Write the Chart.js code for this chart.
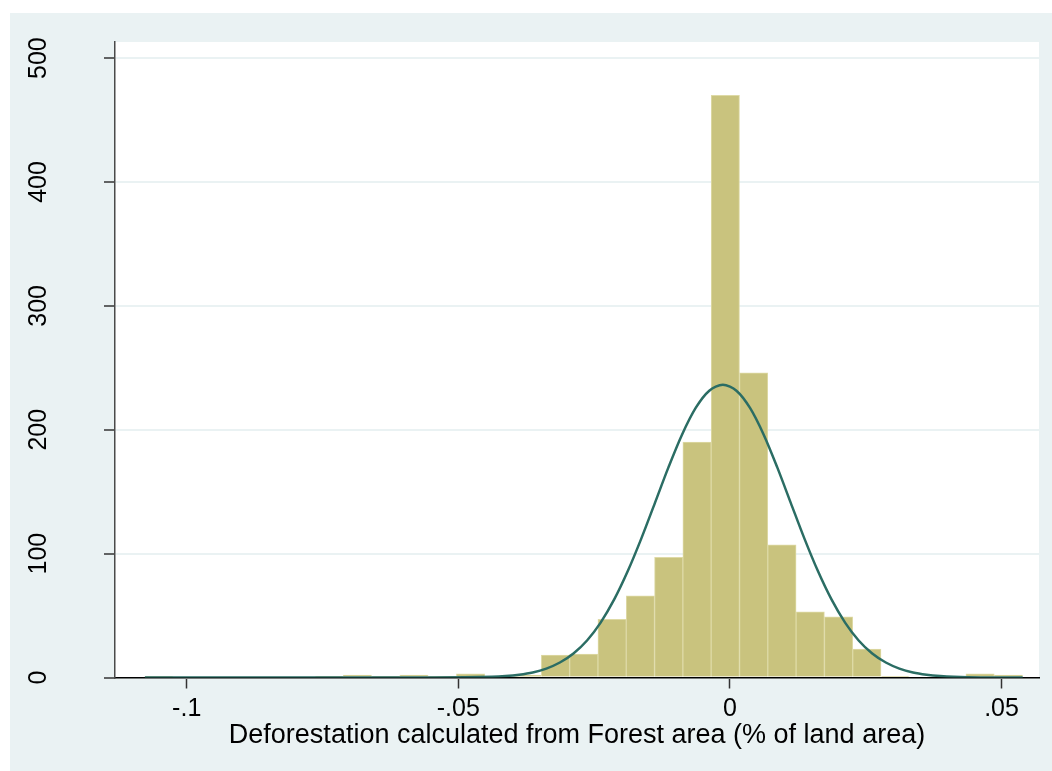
<!DOCTYPE html>
<html>
<head>
<meta charset="utf-8">
<script src="https://cdn.jsdelivr.net/npm/chart.js@4.4.0/dist/chart.umd.min.js"></script>
<style>
  html, body { margin: 0; padding: 0; background: #fff; }
  #wrap { width: 1052px; height: 771px; position: relative; }
</style>
</head>
<body>
<div id="wrap"><canvas id="histChart"></canvas></div>
<script>
// histogram bins
const binStart = -0.10767;
const binWidth = 0.005211;
const binCounts = [1, 0, 0, 0, 0, 0, 1, 2, 1, 2, 1, 3, 0, 2, 18, 19, 47, 66, 97, 190,
  470, 246, 107, 53, 49, 23, 1, 0, 0, 3, 2];

// normal curve overlay
const curveX = [-0.1077, -0.06, -0.0488, -0.0438, -0.0413, -0.0388, -0.0363, -0.0338, -0.0313, -0.0288,
  -0.0263, -0.0238, -0.0213, -0.0188, -0.0163, -0.0138, -0.0113, -0.0088, -0.0063, -0.0038,
  -0.0013, 0.0012, 0.0037, 0.0062, 0.0087, 0.0112, 0.0137, 0.0162, 0.0187, 0.0212,
  0.0237, 0.0262, 0.0287, 0.0312, 0.0337, 0.0362, 0.0387, 0.0412, 0.0462, 0.0539];
const curveY = [0, 0, 0.2, 0.6, 1.2, 2.3, 4.1, 7.2, 12.1, 19.4,
  29.9, 44.3, 63.0, 85.9, 112.3, 141.0, 169.8, 196.2, 217.6, 231.5,
  236.3, 231.5, 217.6, 196.2, 169.8, 141.0, 112.3, 85.9, 63.0, 44.3,
  29.9, 19.4, 12.1, 7.2, 4.1, 2.3, 1.2, 0.6, 0.1, 0];

const xTickValues = [-0.1, -0.05, 0, 0.05];
const xTickLabels = ['-.1', '-.05', '0', '.05'];
const yTickValues = [0, 100, 200, 300, 400, 500];
const yTickLabels = ['0', '100', '200', '300', '400', '500'];
const xTitle = 'Deforestation calculated from Forest area (% of land area)';

const fontFamily = '"Liberation Sans", Arial, sans-serif';

// bin centres from the bin grid
const binPoints = binCounts.map((c, i) => ({ x: binStart + binWidth * (i + 0.5), y: c }));
const curvePoints = curveX.map((x, i) => ({ x: x, y: curveY[i] }));

// Stata-like background: light frame, white plot region
const backgroundPlugin = {
  id: 'stataBackground',
  beforeDraw(chart) {
    const { ctx, chartArea, width, height } = chart;
    ctx.save();
    ctx.fillStyle = '#ffffff';
    ctx.fillRect(0, 0, width, height);
    ctx.fillStyle = '#eaf2f3';
    ctx.fillRect(10, 13, width - 10, height - 13);
    ctx.fillStyle = '#ffffff';
    ctx.fillRect(chartArea.left, chartArea.top, chartArea.right - chartArea.left, chartArea.bottom - chartArea.top);
    ctx.restore();
  }
};

const ctx = document.getElementById('histChart').getContext('2d');
new Chart(ctx, {
  type: 'bar',
  data: {
    datasets: [
      {
        type: 'line',
        data: curvePoints,
        borderColor: '#2b6d64',
        borderWidth: 2.5,
        pointRadius: 0,
        fill: false,
        tension: 0.3,
        order: 0
      },
      {
        type: 'bar',
        data: binPoints,
        backgroundColor: '#c9c37e',
        borderColor: '#dedaa6',
        borderWidth: 1,
        barPercentage: 1,
        categoryPercentage: 1,
        order: 1
      }
    ]
  },
  options: {
    responsive: true,
    maintainAspectRatio: false,
    animation: false,
    devicePixelRatio: 1,
    layout: { padding: { left: 0, top: 42, right: 13, bottom: 0 } },
    plugins: {
      legend: { display: false },
      tooltip: { enabled: false }
    },
    scales: {
      x: {
        type: 'linear',
        min: -0.1132,
        max: 0.0569,
        offset: false,
        afterFit: (s) => { s.height = 93.5; },
        afterBuildTicks: (s) => { s.ticks = xTickValues.map(v => ({ value: v })); },
        grid: {
          offset: false,
          drawOnChartArea: false,
          drawTicks: true,
          tickLength: 11,
          tickColor: '#333333',
          tickWidth: 1.5
        },
        border: { display: true, color: '#000000', width: 1.5 },
        ticks: {
          padding: 6,
          color: '#000000',
          font: { family: fontFamily, size: 25 },
          callback: (v) => xTickLabels[xTickValues.indexOf(v)]
        },
        title: {
          display: true,
          text: xTitle,
          color: '#000000',
          font: { family: fontFamily, size: 27 },
          padding: { top: 0, bottom: 19 }
        }
      },
      y: {
        type: 'linear',
        min: 0,
        max: 513,
        afterFit: (s) => {
          s.width = 115;
          s.paddingTop = 0;
          s.paddingBottom = 0;
        },
        afterBuildTicks: (s) => { s.ticks = yTickValues.map(v => ({ value: v })); },
        grid: {
          color: '#eaf2f3',
          lineWidth: 2,
          drawTicks: true,
          tickLength: 11,
          tickColor: '#333333',
          tickWidth: 1.5
        },
        border: { display: true, color: '#4a4a4a', width: 1.5 },
        ticks: {
          padding: 44,
          minRotation: 90,
          maxRotation: 90,
          crossAlign: 'center',
          color: '#000000',
          font: { family: fontFamily, size: 25 },
          callback: (v) => yTickLabels[yTickValues.indexOf(v)]
        }
      }
    }
  },
  plugins: [backgroundPlugin]
});
</script>
</body>
</html>
